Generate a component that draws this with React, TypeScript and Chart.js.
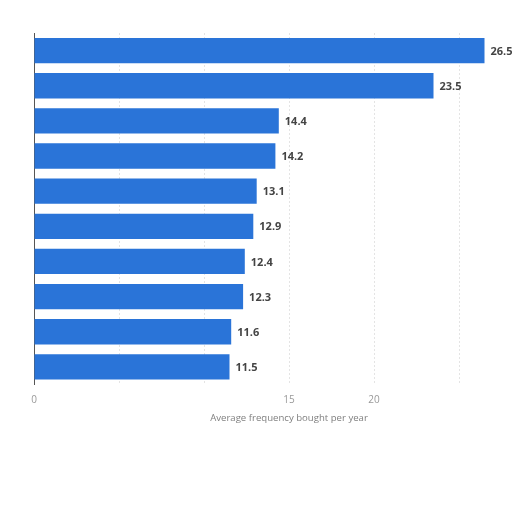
import { useEffect, useRef } from "react"
import { Chart, registerables } from "chart.js"

Chart.register(...registerables)

// Ranked items (names are not legible in the picture)
const categories = ["#1", "#2", "#3", "#4", "#5", "#6", "#7", "#8", "#9", "#10"]
const frequency = [26.5, 23.5, 14.4, 14.2, 13.1, 12.9, 12.4, 12.3, 11.6, 11.5]
const shownTicks = [0, 15, 20]

const valueLabels = {
  id: "valueLabels",
  afterDatasetsDraw(chart: any) {
    const ctx = chart.ctx
    const meta = chart.getDatasetMeta(0)
    ctx.save()
    ctx.font = "bold 11px 'Open Sans', sans-serif"
    ctx.fillStyle = "#444"
    ctx.textBaseline = "middle"
    meta.data.forEach((bar: any, i: number) => {
      ctx.fillText(String(frequency[i]), bar.x + 6, bar.y + 1)
    })
    ctx.restore()
  },
}

export default function App() {
  const chartRef = useRef<HTMLCanvasElement>(null)
  const chartInstance = useRef<Chart | null>(null)

  useEffect(() => {
    if (!chartRef.current) return
    if (chartInstance.current) chartInstance.current.destroy()

    chartInstance.current = new Chart(chartRef.current, {
      type: "bar",
      data: {
        labels: categories,
        datasets: [
          {
            data: frequency,
            backgroundColor: "#2a74d8",
            barPercentage: 0.9,
            categoryPercentage: 0.8,
          },
        ],
      },
      options: {
        indexAxis: "y",
        animation: false,
        responsive: true,
        maintainAspectRatio: false,
        layout: { padding: { left: 26, top: 33, right: 16, bottom: 20 } },
        plugins: {
          legend: { display: false },
          tooltip: { enabled: false },
        },
        scales: {
          x: {
            min: 0,
            max: 30,
            ticks: {
              stepSize: 5,
              padding: 10,
              color: "#999",
              font: { size: 10, family: "'Open Sans', sans-serif" },
              callback: (v: any) => (shownTicks.includes(Number(v)) ? String(v) : ""),
            },
            grid: { color: "#e4e4e4", drawTicks: false },
            border: { display: false, dash: [2, 2] },
            title: {
              display: true,
              text: "Average frequency bought per year",
              color: "#808080",
              font: { size: 9.6, family: "'Open Sans', sans-serif" },
              padding: { top: -4, bottom: 0 },
            },
          } as any,
          y: {
            ticks: { display: false },
            grid: { display: false },
            border: { display: true, color: "#555", width: 1 },
          },
        },
      },
      plugins: [valueLabels],
    })

    return () => {
      if (chartInstance.current) chartInstance.current.destroy()
    }
  }, [])

  return (
    <div style={{ position: "fixed", left: 0, top: 0, width: 512, height: 512, overflow: "hidden", background: "#fff" }}>
      <div style={{ width: 560, height: 444 }}>
        <canvas ref={chartRef}></canvas>
      </div>
    </div>
  )
}
